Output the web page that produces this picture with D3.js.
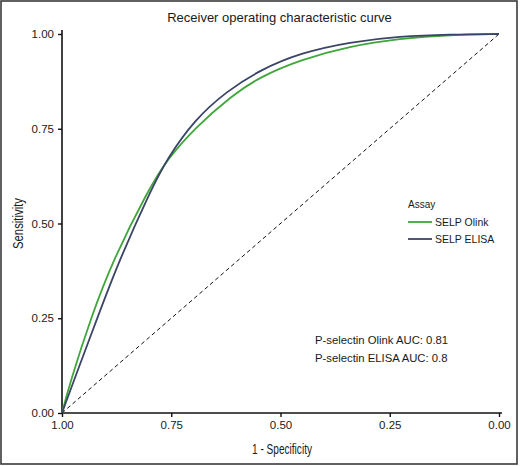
<!DOCTYPE html>
<html>
<head>
<meta charset="utf-8">
<script src="https://cdn.jsdelivr.net/npm/d3@7"></script>
<style>
  body { margin: 0; background: #fff; }
  text { font-family: "Liberation Sans", Arial, sans-serif; fill: #1a1a1a; }
  .narrow { font-family: "Liberation Sans Narrow", "Liberation Sans", Arial, sans-serif; }
</style>
</head>
<body>
<div id="chart"></div>
<script>
// ROC points: specificity (x, reversed axis) and sensitivity (y)
var olinkSpec = [1, 0.982, 0.933, 0.883, 0.803, 0.760, 0.696, 0.611, 0.547, 0.455, 0.341, 0.227, 0.112, 0];
var olinkSens = [0, 0.079, 0.254, 0.404, 0.588, 0.668, 0.752, 0.838, 0.887, 0.932, 0.968, 0.988, 0.998, 1];

var elisaSpec = [1, 0.975, 0.918, 0.872, 0.796, 0.760, 0.696, 0.622, 0.547, 0.455, 0.341, 0.227, 0.112, 0];
var elisaSens = [0, 0.079, 0.254, 0.395, 0.590, 0.670, 0.775, 0.850, 0.905, 0.950, 0.979, 0.994, 0.999, 1];

var seriesNames = ["SELP Olink", "SELP ELISA"];
var seriesColors = ["#3fa63a", "#3b4466"];
var aucLabels = ["P-selectin Olink AUC: 0.81", "P-selectin ELISA AUC: 0.8"];
var tickValues = [1, 0.75, 0.5, 0.25, 0];

var svgWidth = 520, svgHeight = 466;
var margin = { top: 34, right: 21, bottom: 53, left: 62 };
var chartWidth = svgWidth - margin.left - margin.right;
var chartHeight = svgHeight - margin.top - margin.bottom;

var svg = d3.select("#chart").append("svg")
    .attr("width", svgWidth)
    .attr("height", svgHeight);

// outer frame
svg.append("rect")
    .attr("x", 1).attr("y", 1)
    .attr("width", svgWidth - 4).attr("height", svgHeight - 3)
    .attr("fill", "none")
    .attr("stroke", "#3a3a3a")
    .attr("stroke-width", 1.6);

var chartGroup = svg.append("g")
    .attr("transform", `translate(${margin.left},${margin.top})`);

var xScale = d3.scaleLinear().domain([1, 0]).range([0, chartWidth]);
var yScale = d3.scaleLinear().domain([0, 1]).range([chartHeight, 0]);

// axes
var xAxis = d3.axisBottom(xScale).tickValues(tickValues).tickFormat(d3.format(".2f"))
    .tickSizeInner(4).tickSizeOuter(0).tickPadding(4);
var yAxis = d3.axisLeft(yScale).tickValues(tickValues).tickFormat(d3.format(".2f"))
    .tickSizeInner(4).tickSizeOuter(0).tickPadding(4);

var gx = chartGroup.append("g")
    .attr("transform", `translate(0,${chartHeight})`)
    .call(xAxis);
var gy = chartGroup.append("g").call(yAxis);

[gx, gy].forEach(function(g) {
    g.select(".domain").remove();
    g.selectAll(".tick line").attr("stroke", "#111").attr("stroke-width", 1.4);
    g.selectAll(".tick text")
        .style("font-family", "'Liberation Sans', Arial, sans-serif")
        .style("font-size", "11.5px")
        .attr("fill", "#1a1a1a");
});

// axis lines, slightly longer on the far ends
chartGroup.append("line")
    .attr("x1", xScale(1)).attr("x2", xScale(0) + 3)
    .attr("y1", chartHeight).attr("y2", chartHeight)
    .attr("stroke", "#111").attr("stroke-width", 1.6);
chartGroup.append("line")
    .attr("x1", 0).attr("x2", 0)
    .attr("y1", yScale(0) + 0.8).attr("y2", yScale(1) - 4)
    .attr("stroke", "#111").attr("stroke-width", 1.6);

// chance diagonal
chartGroup.append("line")
    .attr("x1", xScale(1)).attr("y1", yScale(0))
    .attr("x2", xScale(0)).attr("y2", yScale(1))
    .attr("stroke", "#111")
    .attr("stroke-width", 1)
    .attr("stroke-dasharray", "4,3");

// roc curves
var line = d3.line()
    .x(d => xScale(d[0]))
    .y(d => yScale(d[1]))
    .curve(d3.curveBasis);

var series = [
    d3.zip(olinkSpec, olinkSens),
    d3.zip(elisaSpec, elisaSens)
];

series.forEach(function(pts, i) {
    chartGroup.append("path")
        .datum(pts)
        .attr("d", line)
        .attr("fill", "none")
        .attr("stroke", seriesColors[i])
        .attr("stroke-width", 1.8);
});

// title
svg.append("text")
    .attr("x", margin.left + chartWidth / 2 - 1)
    .attr("y", 22)
    .attr("text-anchor", "middle")
    .style("font-size", "13px")
    .text("Receiver operating characteristic curve");

// axis titles
svg.append("text")
    .attr("class", "narrow")
    .attr("x", 282)
    .attr("y", 454)
    .attr("text-anchor", "middle")
    .attr("textLength", 60)
    .attr("lengthAdjust", "spacingAndGlyphs")
    .style("font-size", "14px")
    .text("1 - Specificity");

svg.append("text")
    .attr("class", "narrow")
    .attr("transform", `translate(23,${margin.top + chartHeight / 2}) rotate(-90)`)
    .attr("text-anchor", "middle")
    .attr("textLength", 51)
    .attr("lengthAdjust", "spacingAndGlyphs")
    .style("font-size", "14px")
    .text("Sensitivity");

// legend
var legend = svg.append("g").attr("transform", "translate(408,208)");
legend.append("text")
    .attr("x", 0).attr("y", 0)
    .style("font-size", "10px")
    .text("Assay");
seriesNames.forEach(function(name, i) {
    var y = 14 + i * 17;
    legend.append("line")
        .attr("x1", 0).attr("x2", 24)
        .attr("y1", y).attr("y2", y)
        .attr("stroke", seriesColors[i])
        .attr("stroke-width", 1.8);
    legend.append("text")
        .attr("x", 27).attr("y", y + 4)
        .style("font-size", "10.5px")
        .text(name);
});

// AUC annotations
aucLabels.forEach(function(label, i) {
    svg.append("text")
        .attr("x", 315)
        .attr("y", 344 + i * 18)
        .style("font-size", "11.3px")
        .text(label);
});
</script>
</body>
</html>
